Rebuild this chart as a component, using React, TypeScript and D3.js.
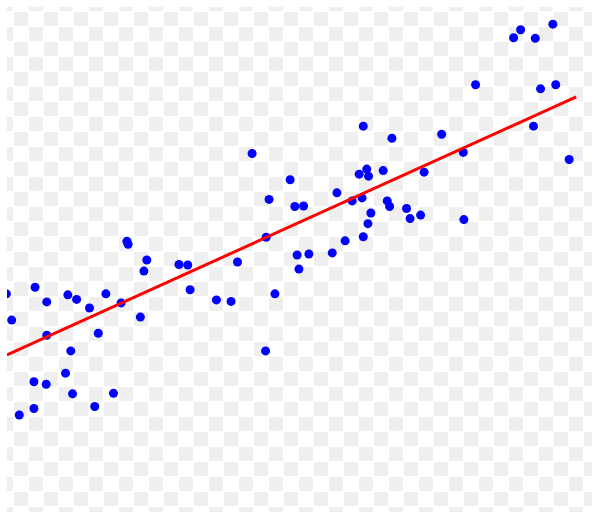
import React from "react";
import * as d3 from "d3";

// scatter values (arbitrary 0-100 units)
const xValues = [
    -0.1, 0.8, 2.1, 4.6, 4.6, 4.8, 6.7, 6.8, 6.8, 10.0,
    10.4, 10.9, 11.2, 11.9, 14.1, 15.0, 15.6, 16.9, 18.2, 19.5,
    20.5, 20.7, 22.8, 23.4, 23.9, 29.4, 30.9, 31.3, 35.8, 38.3,
    39.4, 41.9, 44.2, 44.3, 44.8, 45.8, 48.4, 49.2, 49.6, 49.9,
    50.7, 51.6, 55.6, 56.4, 57.8, 59.0, 60.2, 60.7, 60.9, 60.9,
    61.5, 61.7, 61.8, 62.2, 64.3, 65.0, 65.4, 65.8, 68.3, 68.9,
    70.7, 71.3, 74.3, 78.0, 78.1, 80.1, 86.6, 87.8, 90.0, 90.3,
    91.2, 93.3, 93.8, 96.1,
];
const yValues = [
    43.2, 38.0, 19.2, 25.8, 20.5, 44.5, 25.3, 41.6, 35.0, 27.5,
    43.0, 31.9, 23.4, 42.1, 40.4, 20.9, 35.4, 43.2, 23.5, 41.4,
    53.6, 53.0, 38.6, 47.7, 49.9, 49.0, 48.9, 44.0, 42.0, 41.7,
    49.5, 71.0, 31.9, 54.4, 61.9, 43.2, 65.8, 60.5, 50.9, 48.1,
    60.6, 51.1, 51.3, 63.2, 53.7, 61.6, 66.9, 62.2, 76.4, 54.5,
    67.9, 57.1, 66.5, 59.2, 67.6, 61.6, 60.5, 74.0, 60.1, 58.1,
    58.8, 67.3, 74.8, 71.2, 57.9, 84.6, 93.9, 95.5, 76.4, 93.8,
    83.8, 96.6, 84.6, 69.8,
];

// fitted line end points
const fitX = [0, 97.3];
const fitY = [31.1, 82.2];

export default function App() {
    const width = 602;
    const height = 518;
    const area = { left: 7, top: 7, right: 592, bottom: 512 };

    const x = d3.scaleLinear([0, 100], [area.left, area.right]);
    const y = d3.scaleLinear([0, 100], [area.bottom, area.top]);

    const points = xValues.map((v, i) => ({ x: v, y: yValues[i] }));
    const fit = fitX.map((v, i) => ({ x: v, y: fitY[i] }));

    const fitLine = d3.line<{ x: number, y: number }>()
        .x(d => x(d.x))
        .y(d => y(d.y));

    return <svg width={width} height={height}
        style={{ position: "absolute", left: 0, top: 0, background: "#ffffff" }}>
        <defs>
            {/* transparency checkerboard behind the image */}
            <pattern id="checker" patternUnits="userSpaceOnUse" x={-1} y={-3} width={30} height={30}>
                <rect x={0} y={0} width={30} height={30} fill="#ffffff" />
                <rect x={0} y={0} width={14} height={14} fill="#efefef" />
                <rect x={15} y={15} width={14} height={14} fill="#efefef" />
            </pattern>
            <clipPath id="plot-clip">
                <rect x={area.left} y={area.top} width={area.right - area.left} height={area.bottom - area.top} />
            </clipPath>
        </defs>
        <rect x={area.left} y={area.top} width={area.right - area.left} height={area.bottom - area.top} fill="url(#checker)" />
        <g clipPath="url(#plot-clip)">
            {points.map((p, i) => (
                <circle key={i} cx={x(p.x)} cy={y(p.y)} r={4.5} fill="#0000ff" />
            ))}
            <path d={fitLine(fit)!} stroke="#ff0000" strokeWidth={3} fill="none" />
        </g>
    </svg>;
}
